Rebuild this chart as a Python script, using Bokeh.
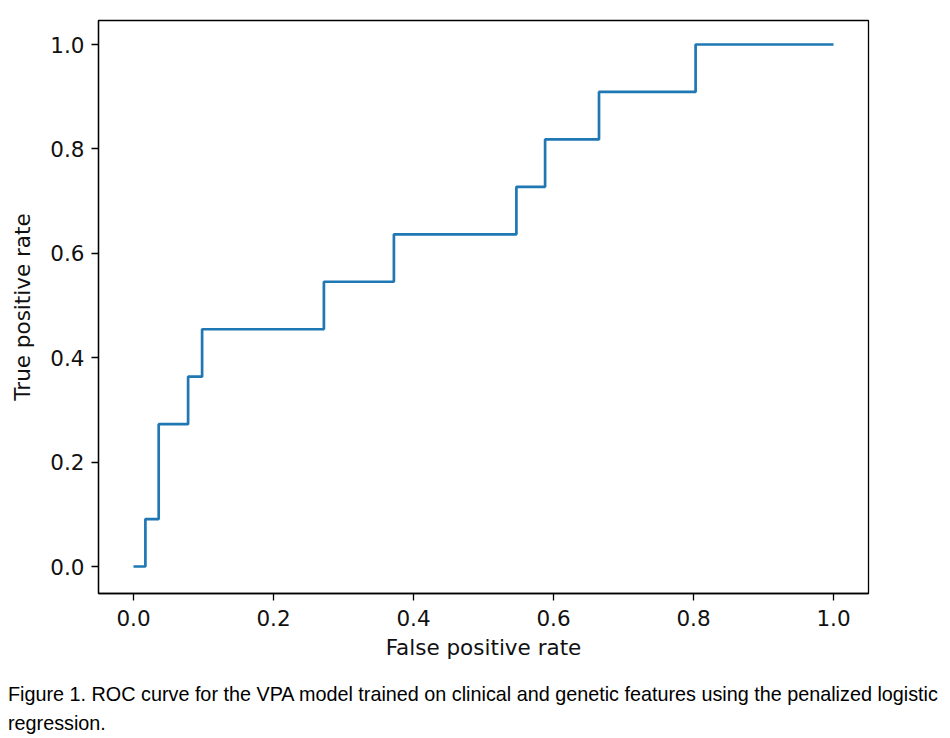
from bokeh.plotting import figure
from bokeh.models import FixedTicker, Range1d, Div, CustomJSTickFormatter
from bokeh.layouts import column
from bokeh.embed import file_html
from bokeh.resources import INLINE

# ROC curve points (false positive rate, true positive rate)
fpr = [0.0, 0.017, 0.017, 0.036, 0.036, 0.078, 0.078, 0.098, 0.098, 0.272, 0.272,
       0.372, 0.372, 0.547, 0.547, 0.588, 0.588, 0.665, 0.665, 0.803, 0.803, 1.0]
tpr = [0.0, 0.0, 0.0909, 0.0909, 0.2727, 0.2727, 0.3636, 0.3636, 0.4545, 0.4545, 0.5455,
       0.5455, 0.6364, 0.6364, 0.7273, 0.7273, 0.8182, 0.8182, 0.9091, 0.9091, 1.0, 1.0]
ticks = [0.0, 0.2, 0.4, 0.6, 0.8, 1.0]
x_label = "False positive rate"
y_label = "True positive rate"
caption_1 = "Figure 1. ROC curve for the VPA model trained on clinical and genetic features using the penalized logistic"
caption_2 = "regression."

p = figure(width=878, height=675, output_backend="svg", toolbar_location=None,
           x_range=Range1d(-0.05, 1.05), y_range=Range1d(-0.0517, 1.046),
           min_border_left=98, min_border_top=20, min_border_right=10, min_border_bottom=82)
p.line(fpr, tpr, line_color="#1f77b4", line_width=2.7)

p.xgrid.visible = False
p.ygrid.visible = False
p.outline_line_color = "black"
p.outline_line_width = 1.3
p.background_fill_color = "white"
p.border_fill_color = "white"

fmt = CustomJSTickFormatter(code="return tick.toFixed(1);")
for ax in (p.xaxis[0], p.yaxis[0]):
    ax.ticker = FixedTicker(ticks=ticks)
    ax.formatter = fmt
    ax.minor_tick_line_color = None
    ax.major_tick_in = 0
    ax.major_tick_out = 7
    ax.major_tick_line_width = 1.3
    ax.axis_line_width = 1.3
    ax.axis_line_color = "black"
    ax.major_tick_line_color = "black"
    ax.major_label_text_font = "DejaVu Sans"
    ax.major_label_text_font_size = "21.5px"
    ax.major_label_text_color = "#111111"
    ax.axis_label_text_font = "DejaVu Sans"
    ax.axis_label_text_font_size = "21.5px"
    ax.axis_label_text_font_style = "normal"
    ax.axis_label_text_color = "#111111"

p.xaxis[0].axis_label = x_label
p.yaxis[0].axis_label = y_label
p.xaxis[0].major_label_standoff = 9
p.xaxis[0].axis_label_standoff = 6
p.yaxis[0].major_label_standoff = 7
p.yaxis[0].axis_label_standoff = 12

cap = Div(text=caption_1 + "<br>" + caption_2, width=945,
          styles={"font-family": "Liberation Sans", "font-size": "19.8px",
                  "line-height": "29px", "white-space": "nowrap", "color": "black",
                  "padding-left": "3px"})

layout = column(p, cap, spacing=0)
open("out.html", "w").write(file_html(layout, INLINE))
